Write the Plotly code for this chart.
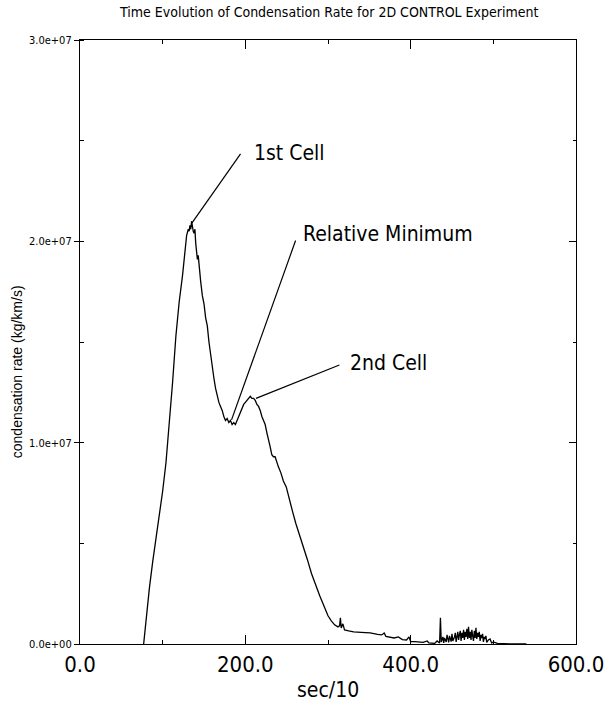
import plotly.graph_objects as go

# ---- data (time in sec/10, condensation rate in 1e6 kg/km/s) ----
time = [77, 80, 84, 88, 92, 96, 100, 104, 108, 112, 116, 120, 124, 127, 129, 131, 132, 133,
        134, 135, 136, 137, 138, 139, 140, 141, 142, 143, 144, 146, 148, 150, 152, 154, 156, 158, 160, 162,
        164, 166, 168, 170, 172, 174, 176, 178, 180, 182, 184, 186, 188, 190, 192, 194, 196, 198, 200, 202,
        204, 206, 208, 210, 212, 214, 216, 218, 220, 222, 224, 226, 228, 230, 232, 234, 236, 238, 240, 243,
        246, 249.5, 253, 257, 261, 265, 270, 275, 280, 285, 290, 295, 300, 304, 308, 312, 314, 315, 316, 318,
        320, 325, 331, 340, 351, 360, 365, 368, 370, 380, 385, 390, 395, 398, 400, 405, 409, 415, 420, 422,
        429, 432, 435, 436, 437, 439, 440, 441, 443, 444, 446, 447, 449, 450, 451, 453, 454, 455, 457, 458,
        459, 460, 461, 462, 463, 464, 465, 466, 467, 468, 469, 470, 471, 472, 473, 474, 475, 476, 477, 478,
        479, 480, 481, 482, 483, 484, 485, 486, 487, 488, 489, 490, 491, 492, 494, 496, 498, 500, 505, 510,
        520, 540]
rate_e6 = [0.0, 1.3, 2.8, 4.1, 5.2, 6.3, 7.6, 9.0, 10.8, 13.0, 15.3, 17.0, 18.3, 19.6, 20.3, 20.6, 20.5, 20.8,
           20.6, 21.0, 20.7, 20.5, 20.4, 20.6, 19.9, 19.4, 19.1, 19.3, 18.8, 18.0, 17.3, 16.9, 16.2, 15.8, 15.0, 14.3, 13.8, 13.2,
           12.7, 12.3, 12.0, 11.8, 11.6, 11.3, 11.1, 11.2, 11.0, 11.1, 10.9, 11.0, 10.9, 11.1, 11.3, 11.5, 11.7, 11.9, 12.0, 12.1,
           12.2, 12.3, 12.2, 12.2, 12.1, 11.9, 11.8, 11.6, 11.3, 11.1, 10.9, 10.5, 10.2, 9.8, 9.4, 9.3, 9.3, 9.0, 8.8, 8.5,
           8.1, 7.8, 7.2, 6.6, 6.0, 5.5, 4.8, 4.2, 3.5, 2.9, 2.4, 1.9, 1.4, 1.15, 0.95, 0.85, 0.9, 1.3, 0.8, 1.0,
           0.7, 0.65, 0.6, 0.58, 0.55, 0.48, 0.45, 0.55, 0.38, 0.3, 0.35, 0.22, 0.2, 0.35, 0.12, 0.12, 0.1, 0.08, 0.15, 0.05,
           0.03, 0.15, 0.05, 1.3, 0.1, 0.35, 0.05, 0.3, 0.1, 0.45, 0.08, 0.4, 0.12, 0.5, 0.15, 0.35, 0.55, 0.1, 0.6, 0.2,
           0.45, 0.65, 0.15, 0.55, 0.3, 0.7, 0.2, 0.6, 0.35, 0.75, 0.25, 0.85, 0.3, 0.6, 0.2, 0.7, 0.4, 0.15, 0.65, 0.3,
           0.8, 0.25, 0.55, 0.35, 0.6, 0.15, 0.45, 0.3, 0.5, 0.1, 0.35, 0.25, 0.4, 0.08, 0.2, 0.25, 0.05, 0.1, 0.03, 0.02,
           0.01, 0.0]
rate = [v * 1e6 for v in rate_e6]

x_tickvals = [0, 200, 400, 600]
x_ticktext = ["0.0", "200.0", "400.0", "600.0"]
y_tickvals = [0, 1e7, 2e7, 3e7]
y_ticktext = ["0.0e+00", "1.0e+07", "2.0e+07", "3.0e+07"]

# annotation labels: (text, anchor on curve (x, y), line end (x, y), text left (x, y))
labels = [
    ("1st Cell", (135.3, 20.9e6), (194.2, 24.34e6), (208.0, 24.37e6)),
    ("Relative Minimum", (183.3, 11.13e6), (260.8, 20.04e6), (267.8, 20.37e6)),
    ("2nd Cell", (212.9, 12.2e6), (313.8, 13.86e6), (323.6, 13.96e6)),
]

NARROW = "DejaVu Sans Condensed, Liberation Sans Narrow, Liberation Sans, sans-serif"

fig = go.Figure()
fig.add_trace(go.Scatter(x=time, y=rate, mode="lines",
                         line=dict(color="black", width=1.3), showlegend=False, hoverinfo="skip"))
# dummy trace on the right y axis to carry its ticks
fig.add_trace(go.Scatter(x=[None], y=[None], yaxis="y2", showlegend=False, hoverinfo="skip"))

for text, (x0, y0), (x1, y1), (tx, ty) in labels:
    fig.add_shape(type="line", x0=x0, y0=y0, x1=x1, y1=y1, xref="x", yref="y",
                  line=dict(color="black", width=1.2))
    fig.add_annotation(x=tx, y=ty, xref="x", yref="y", text=text, showarrow=False,
                       xanchor="left", yanchor="middle",
                       font=dict(family=NARROW, size=21, color="black"))

fig.add_annotation(x=0.5, y=1, xref="paper", yref="paper", yshift=28,
                   text="Time Evolution of Condensation Rate for 2D CONTROL Experiment",
                   showarrow=False, xanchor="center", yanchor="middle",
                   font=dict(family=NARROW, size=14, color="black"))
fig.add_annotation(x=0.5, y=0, xref="paper", yref="paper", yshift=-46,
                   text="sec/10", showarrow=False, xanchor="center", yanchor="middle",
                   font=dict(family=NARROW, size=21, color="black"))
fig.add_annotation(x=0, y=0.45, xref="paper", yref="paper", xshift=-63,
                   text="condensation rate (kg/km/s)", showarrow=False, textangle=-90,
                   xanchor="center", yanchor="middle",
                   font=dict(family="Liberation Sans, Arial, sans-serif", size=14, color="black"))

fig.update_layout(
    width=616, height=713,
    margin=dict(l=80, r=23, t=40, b=69),
    paper_bgcolor="white", plot_bgcolor="white",
    xaxis=dict(range=[0, 600], tickvals=x_tickvals, ticktext=x_ticktext,
               ticks="inside", ticklen=9, tickcolor="black", tickwidth=1,
               minor=dict(ticks="inside", ticklen=4, dtick=100, tick0=0, tickcolor="black", showgrid=False),
               showline=True, linecolor="black", linewidth=1.2, mirror="ticks",
               showgrid=False, zeroline=False, ticklabeloverflow="allow",
               tickfont=dict(family=NARROW, size=22, color="black")),
    yaxis=dict(range=[0, 3e7], tickvals=y_tickvals, ticktext=y_ticktext,
               ticks="outside", ticklen=5, tickcolor="black", tickwidth=1,
               minor=dict(ticks="inside", ticklen=4, dtick=5e6, tick0=0, tickcolor="black", showgrid=False),
               showline=True, linecolor="black", linewidth=1.2, mirror=True,
               showgrid=False, zeroline=False, ticklabeloverflow="allow",
               tickfont=dict(family=NARROW, size=11, color="black")),
    yaxis2=dict(range=[0, 3e7], overlaying="y", side="right", tickvals=y_tickvals,
                ticks="inside", ticklen=7, tickcolor="black", tickwidth=1,
                minor=dict(ticks="inside", ticklen=3, dtick=5e6, tick0=0, tickcolor="black", showgrid=False),
                showticklabels=False, showline=False, showgrid=False, zeroline=False),
)

fig.write_html("out.html")
